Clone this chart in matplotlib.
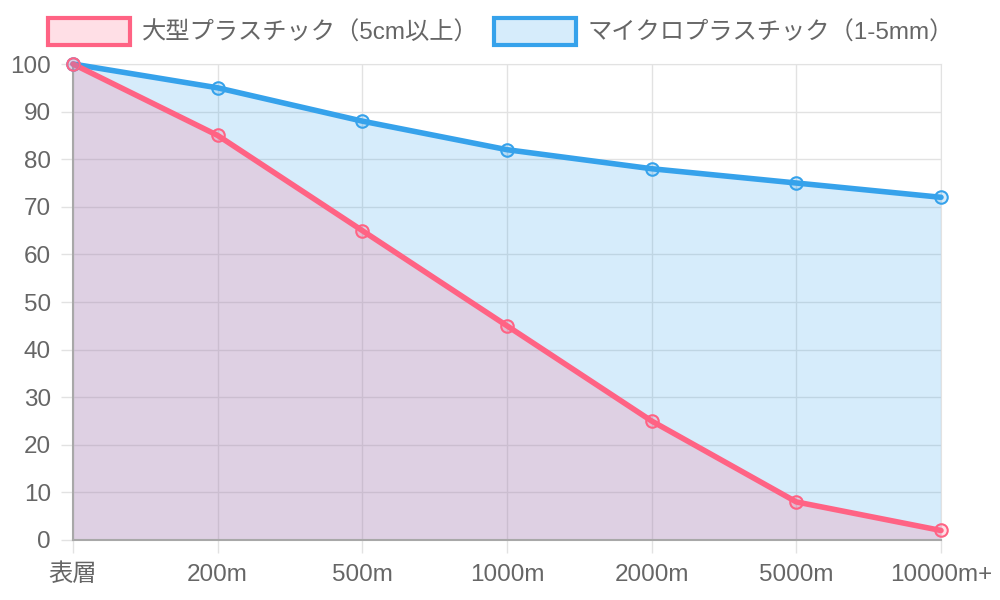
import numpy as np
import matplotlib
matplotlib.use('Agg')
from matplotlib import pyplot as plt
from matplotlib.patches import Rectangle

plt.rcParams['font.family'] = ['Liberation Sans', 'Noto Sans CJK JP', 'DejaVu Sans']

depths = ['表層', '200m', '500m', '1000m', '2000m', '5000m', '10000m+']
large_plastic = [100, 85, 65, 45, 25, 8, 2]
micro_plastic = [100, 95, 88, 82, 78, 75, 72]
labels = ['大型プラスチック（5cm以上）', 'マイクロプラスチック（1-5mm）']

pink = (255/255, 99/255, 132/255)
blue = (54/255, 162/255, 235/255)
text_color = '#666666'
grid_color = '#e2e2e2'

fig = plt.figure(figsize=(10, 6), dpi=100)
ax = fig.add_axes([0.073, 0.1, 0.868, 0.7933])

x = np.arange(len(depths))

# blue drawn first so pink sits on top (chart.js order)
for vals, col in [(micro_plastic, blue), (large_plastic, pink)]:
    ax.fill_between(x, 0, vals, color=col, alpha=0.2, linewidth=0, zorder=2)
    ax.plot(x, vals, color=col, linewidth=4.0, zorder=3, solid_capstyle='round',
            solid_joinstyle='round', clip_on=False)
    ax.plot(x, vals, 'o', markersize=9, markerfacecolor=(*col, 0.2),
            markeredgecolor=col, markeredgewidth=1.5, zorder=4, clip_on=False)

ax.set_xlim(0, len(depths) - 1)
ax.set_ylim(0, 100)
ax.set_xticks(x)
ax.set_xticklabels(depths)
ax.set_yticks(range(0, 101, 10))

ax.tick_params(axis='both', color=grid_color, labelcolor=text_color,
               labelsize=17.5, length=9, width=1)
ax.tick_params(axis='y', pad=7)
ax.tick_params(axis='x', pad=8)
ax.set_axisbelow(True)
ax.grid(True, color=grid_color, linewidth=1)
for side in ['top', 'right']:
    ax.spines[side].set_color(grid_color)
for side in ['left', 'bottom']:
    ax.spines[side].set_color('#a8a8a8')
    ax.spines[side].set_linewidth(1.5)
    ax.spines[side].set_zorder(2.5)

# legend drawn by hand, chart.js style
legend_items = [(48, labels[0], pink), (494, labels[1], blue)]
for x0, lab, col in legend_items:
    box = Rectangle((x0 / 1000, 1 - 45 / 600), 82 / 1000, 27 / 600,
                    transform=fig.transFigure, facecolor=(*col, 0.2),
                    edgecolor=col, linewidth=3)
    fig.patches.append(box)
    fig.text((x0 + 94) / 1000, 1 - 33 / 600, lab, fontsize=17.5,
             color=text_color, va='center', ha='left')

fig.savefig('out.png', dpi=100)
